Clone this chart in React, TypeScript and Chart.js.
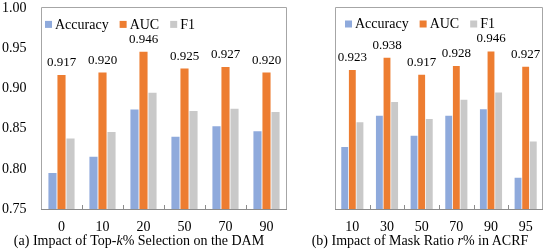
import React, { useEffect, useRef } from "react";
import { Chart, registerables } from "chart.js";

Chart.register(...registerables);

const SERIES_NAMES = ["Accuracy", "AUC", "F1"];
const SERIES_COLORS = ["#8FAADC", "#ED7D31", "#C9C9C9"];

const catsA = ["0", "10", "20", "50", "70", "90"];
const accA = [0.795, 0.815, 0.874, 0.840, 0.853, 0.847];
const aucA = [0.917, 0.920, 0.946, 0.925, 0.927, 0.920];
const f1A = [0.838, 0.846, 0.895, 0.872, 0.875, 0.871];

const catsB = ["10", "30", "50", "70", "90", "95"];
const accB = [0.827, 0.866, 0.841, 0.866, 0.874, 0.789];
const aucB = [0.923, 0.938, 0.917, 0.928, 0.946, 0.927];
const f1B = [0.858, 0.883, 0.862, 0.886, 0.895, 0.834];

const yTicks = [0.75, 0.8, 0.85, 0.9, 0.95, 1.0];

const FONT = "'Liberation Serif', 'Times New Roman', serif";

const panelPlugin = {
  id: "panelDeco",
  beforeDatasetsDraw(chart: any) {
    const { ctx, chartArea } = chart;
    const { left, right, top, bottom } = chartArea;
    ctx.save();
    ctx.strokeStyle = "#A6A6A6";
    ctx.lineWidth = 1;
    ctx.beginPath();
    ctx.moveTo(Math.round(left) + 0.5, bottom);
    ctx.lineTo(Math.round(left) + 0.5, Math.round(top) - 0.5);
    ctx.lineTo(Math.round(right) - 0.5, Math.round(top) - 0.5);
    ctx.lineTo(Math.round(right) - 0.5, bottom);
    ctx.stroke();
    ctx.restore();
  },
  afterDatasetsDraw(chart: any, _args: any, opts: any) {
    const { ctx, chartArea } = chart;
    const { left, right, bottom, top } = chartArea;
    const xs = chart.scales.x;
    ctx.save();
    // bottom axis with inside tick marks between categories
    ctx.strokeStyle = "#8C8C8C";
    ctx.lineWidth = 1;
    ctx.beginPath();
    ctx.moveTo(left, Math.round(bottom) + 0.5);
    ctx.lineTo(right, Math.round(bottom) + 0.5);
    const n = chart.data.labels.length;
    for (let i = 1; i < n; i++) {
      const x = Math.round((xs.getPixelForTick(i - 1) + xs.getPixelForTick(i)) / 2) + 0.5;
      ctx.moveTo(x, bottom);
      ctx.lineTo(x, bottom - 4);
    }
    ctx.stroke();

    // AUC value labels
    const meta = chart.getDatasetMeta(1);
    const vals = chart.data.datasets[1].data;
    ctx.fillStyle = "#000";
    ctx.font = `13px ${FONT}`;
    ctx.textAlign = "center";
    ctx.textBaseline = "alphabetic";
    meta.data.forEach((el: any, i: number) => {
      ctx.fillText(Number(vals[i]).toFixed(3), el.x, el.y - 9);
    });

    // legend inside plot area
    let x = left + (opts.legendOffset || 4);
    const cy = top + 16;
    ctx.font = `14px ${FONT}`;
    ctx.textAlign = "left";
    ctx.textBaseline = "middle";
    chart.data.datasets.forEach((ds: any) => {
      ctx.fillStyle = ds.backgroundColor;
      ctx.fillRect(x, cy - 3.5, 7, 7);
      x += 10;
      ctx.fillStyle = "#000";
      ctx.fillText(ds.label, x, cy + 0.5);
      x += ctx.measureText(ds.label).width + 11;
    });
    ctx.restore();
  },
};

function Panel(props: {
  cats: string[];
  acc: number[];
  auc: number[];
  f1: number[];
  showY: boolean;
  width: number;
  padLeft: number;
  padRight: number;
  legendOffset: number;
}) {
  const ref = useRef<HTMLCanvasElement>(null);
  useEffect(() => {
    const data = [props.acc, props.auc, props.f1];
    const chart = new Chart(ref.current!, {
      type: "bar",
      data: {
        labels: props.cats,
        datasets: SERIES_NAMES.map((name, i) => ({
          label: name,
          data: data[i],
          backgroundColor: SERIES_COLORS[i],
          borderWidth: 0,
          categoryPercentage: 0.66,
          barPercentage: 0.9,
        })),
      },
      options: {
        animation: false,
        responsive: false,
        maintainAspectRatio: false,
        layout: { padding: { left: props.padLeft, right: props.padRight, top: 8, bottom: 0 } },
        plugins: {
          legend: { display: false },
          tooltip: { enabled: false },
          panelDeco: { legendOffset: props.legendOffset },
        } as any,
        scales: {
          x: {
            grid: { display: false, drawTicks: false },
            border: { display: false },
            ticks: { color: "#000", font: { family: FONT, size: 14 }, padding: 10 },
            afterFit: (s: any) => {
              s.height = 42;
            },
          },
          y: {
            display: props.showY,
            min: 0.75,
            max: 1.0,
            grid: { display: false, drawTicks: false },
            border: { display: false },
            afterBuildTicks: (s: any) => {
              s.ticks = yTicks.map((v) => ({ value: v }));
            },
            ticks: {
              color: "#000",
              font: { family: FONT, size: 14 },
              padding: 0,
              crossAlign: "far",
              callback: (v: any) => Number(v).toFixed(2),
            },
            afterFit: (s: any) => {
              s.width = 39;
            },
          },
        },
      },
      plugins: [panelPlugin],
    });
    return () => chart.destroy();
  }, []);
  return <canvas ref={ref} width={props.width} height={251} style={{ display: "block", width: props.width, height: 251 }} />;
}

export default function App() {
  const cap: React.CSSProperties = {
    position: "absolute",
    top: 233,
    fontFamily: FONT,
    fontSize: 14,
    color: "#000",
    whiteSpace: "nowrap",
    transform: "translateX(-50%)",
    lineHeight: "16px",
  };
  return (
    <div style={{ position: "absolute", left: 0, top: 0, width: 548, height: 251, background: "#fff", overflow: "hidden" }}>
      <div style={{ position: "absolute", left: 0, top: 0 }}>
        <Panel cats={catsA} acc={accA} auc={aucA} f1={f1A} showY={true} width={291} padLeft={2} padRight={4} legendOffset={4} />
      </div>
      <div style={{ position: "absolute", left: 291, top: 0 }}>
        <Panel cats={catsB} acc={accB} auc={aucB} f1={f1B} showY={false} width={257} padLeft={5} padRight={5} legendOffset={10} />
      </div>
      <div style={{ ...cap, left: 139 }}>
        (a) Impact of Top-<i>k</i>% Selection on the DAM
      </div>
      <div style={{ ...cap, left: 420 }}>
        (b) Impact of Mask Ratio <i>r</i>% in ACRF
      </div>
    </div>
  );
}
